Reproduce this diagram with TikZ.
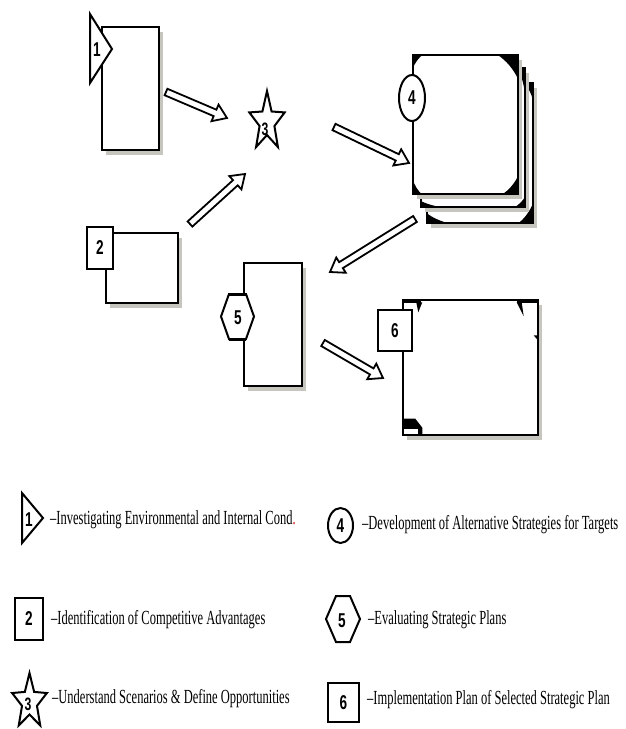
\documentclass[tikz,border=0pt]{standalone}
\usepackage{fontspec}
\setmainfont{Liberation Serif}
\newfontfamily\numfont[FakeStretch=0.68]{Liberation Sans}
\newfontfamily\legfont[FakeStretch=0.625]{Liberation Serif}
\usetikzlibrary{calc,shadows,shapes.geometric}
\definecolor{shade}{HTML}{C6C6BE}
\definecolor{dotred}{HTML}{D01010}

% black photo corner at anchor #1, legs #2 (horizontal) and #3 (vertical)
\newcommand\pcorner[3]{%
  \fill (#1) -- ++(#2,0)
    .. controls +({-0.42*(#2)},{0.22*(#3)}) and +({0.22*(#2)},{-0.42*(#3)})
    .. ($(#1)+(0,#3)$) -- cycle;}

% hollow block arrow from #1 to #2
\newcommand\blockarrow[2]{%
  \coordinate (hb) at ($(#2)!13pt!(#1)$);
  \draw[blockarr]
    ($(#1)!3.5pt!90:(#2)$) -- ($(hb)!3.5pt!90:(#2)$) -- ($(hb)!9pt!90:(#2)$)
    -- (#2)
    -- ($(hb)!9pt!-90:(#2)$) -- ($(hb)!3.5pt!-90:(#2)$) -- ($(#1)!3.5pt!-90:(#2)$)
    -- cycle;}

\begin{document}
\begin{tikzpicture}[x=1pt,y=-1pt,
  page/.style={draw, line width=1.4pt, fill=white, inner sep=0pt,
    drop shadow={fill=shade, opacity=1, shadow xshift=4pt, shadow yshift=-5pt}},
  marker/.style={draw, line width=2pt, fill=white, line join=miter},
  num/.style={inner sep=0pt, font=\numfont\bfseries\fontsize{20}{20}\selectfont},
  numbox/.style={draw, line width=2.6pt, fill=white, inner sep=0pt,
    minimum width=26pt, minimum height=42pt,
    font=\numfont\bfseries\fontsize{20}{20}\selectfont},
  numoval/.style={ellipse, draw, line width=2pt, fill=white, inner sep=0pt,
    font=\numfont\bfseries\fontsize{20}{20}\selectfont},
  legend/.style={anchor=west, inner sep=0pt,
    font=\legfont\fontsize{20}{20}\selectfont},
  blockarr/.style={draw, line width=1.8pt, fill=white, line join=miter}]
\useasboundingbox (0,0) rectangle (626,729);

% ---------- step 1 ----------
\node[page, minimum width=57pt, minimum height=123pt] (p1) at (130.5,88.5) {};
\draw[marker] (90,14) -- (112,49) -- (90,83) -- cycle;
\node[num] (m1) at (97,50) {1};

% ---------- step 2 ----------
\node[page, minimum width=72pt, minimum height=70pt] (p2) at (142,268) {};
\node[numbox] (m2) at (100,248) {2};

% ---------- step 3 ----------
\begin{scope}[shift={(267,122)}, xscale=0.6]
  \draw[marker] (-90:31) -- (-54:13) -- (-18:31) -- (18:13) -- (54:31)
    -- (90:13) -- (126:31) -- (162:13) -- (198:31) -- (234:13) -- cycle;
\end{scope}
\node[num, font=\numfont\bfseries\fontsize{18}{18}\selectfont] (m3) at (265,129) {3};

% ---------- step 4: stack of pages ----------
\node[page, minimum width=106pt, minimum height=140pt] (p4c) at (480,153) {};
\pcorner{p4c.north west}{12}{16}
\pcorner{p4c.north east}{-10}{20}
\pcorner{p4c.south west}{24}{-11}
\pcorner{p4c.south east}{-16}{-22}
\node[page, minimum width=104pt, minimum height=139pt] (p4b) at (473,137.5) {};
\pcorner{p4b.north west}{12}{16}
\pcorner{p4b.north east}{-8}{30}
\pcorner{p4b.south west}{24}{-7}
\pcorner{p4b.south east}{-12}{-12}
\node[page, minimum width=105pt, minimum height=139pt] (p4) at (465.5,124.5) {};
\pcorner{p4.north west}{11}{15}
\pcorner{p4.north east}{-22}{26}
\pcorner{p4.south west}{10}{-16}
\pcorner{p4.south east}{-17}{-20}
\node[numoval, minimum width=26pt, minimum height=46pt] (m4) at (412,98) {4};

% ---------- step 5 ----------
\node[page, minimum width=58pt, minimum height=123pt] (p5) at (273,324.5) {};
\draw[marker] (221,316.5) -- (229,294) -- (246,294) -- (254,316.5)
  -- (246,339) -- (229,339) -- cycle;
\draw[line width=3pt] (229,294) -- (246,294) (229,339) -- (246,339);
\node[num] (m5) at (238,318) {5};

% ---------- step 6 ----------
\node[page, minimum width=135pt, minimum height=135pt] (p6) at (470.5,367.5) {};
\fill (p6.north west) rectangle ($(p6.north west)+(19,4)$);
\fill ($(p6.north west)+(14,3)$) -- ++(6,0) -- ++(-4,10) -- cycle;
\fill ($(p6.north east)+(-22,0)$) rectangle ($(p6.north east)+(0,4)$);
\fill ($(p6.north east)+(-22,3)$) -- ++(5,0) -- ++(2,14) -- cycle;
\fill ($(p6.north east)+(0,36)$) -- ++(-5,0) -- ++(5,6) -- cycle;
\fill ($(p6.south west)+(0,-17)$) -- ++(13,0) -- ++(7,9) -- ++(0,8)
  -- (p6.south west) -- cycle;
\fill[white] ($(p6.south west)+(2,-7)$) rectangle ($(p6.south west)+(16,-2)$);
\node[numbox, line width=2.4pt, minimum width=34pt, minimum height=41pt] (m6) at (395,330.5) {6};

% ---------- flow arrows ----------
\coordinate (a1s) at (166,92);  \coordinate (a1e) at (227,118);
\coordinate (a2s) at (190,224); \coordinate (a2e) at (245,174);
\coordinate (a3s) at (334,127); \coordinate (a3e) at (409,163);
\coordinate (a4s) at (415,219); \coordinate (a4e) at (330,272);
\coordinate (a5s) at (323,343); \coordinate (a5e) at (383,378);
\blockarrow{a1s}{a1e}
\blockarrow{a2s}{a2e}
\blockarrow{a3s}{a3e}
\blockarrow{a4s}{a4e}
\blockarrow{a5s}{a5e}

% ---------- legend ----------
\draw[marker] (22,493) -- (43,518) -- (22,543) -- cycle;
\node[num] (l1) at (29,520) {1};
\node[legend] (t1) at (50,520) {\textendash Investigating Environmental and Internal Cond\textcolor{dotred}{.}};

\node[numbox, line width=2.4pt, minimum width=28pt, minimum height=42pt] (l2) at (29,619) {2};
\node[legend] (t2) at (51,620) {\textendash Identification of Competitive Advantages};

\begin{scope}[shift={(29.5,702)}, xscale=0.63]
  \draw[marker] (-90:29) -- (-54:12.5) -- (-18:29) -- (18:12.5) -- (54:29)
    -- (90:12.5) -- (126:29) -- (162:12.5) -- (198:29) -- (234:12.5) -- cycle;
\end{scope}
\node[num, font=\numfont\bfseries\fontsize{18}{18}\selectfont] (l3) at (28,704) {3};
\node[legend] (t3) at (52,699) {\textendash Understand Scenarios \& Define Opportunities};

\node[numoval, minimum width=25pt, minimum height=35pt] (l4) at (340.5,525.5) {4};
\node[legend] (t4) at (362,525) {\textendash Development of Alternative Strategies for Targets};

\draw[marker] (326,619) -- (336,596) -- (350,596) -- (360,619)
  -- (350,642) -- (336,642) -- cycle;
\node[num] (l5) at (342,621) {5};
\node[legend] (t5) at (368,620) {\textendash Evaluating Strategic Plans};

\node[numbox, line width=2.4pt, minimum width=31pt, minimum height=39pt] (l6) at (343.5,702.5) {6};
\node[legend] (t6) at (367,700) {\textendash Implementation Plan of Selected Strategic Plan};
\end{tikzpicture}
\end{document}
